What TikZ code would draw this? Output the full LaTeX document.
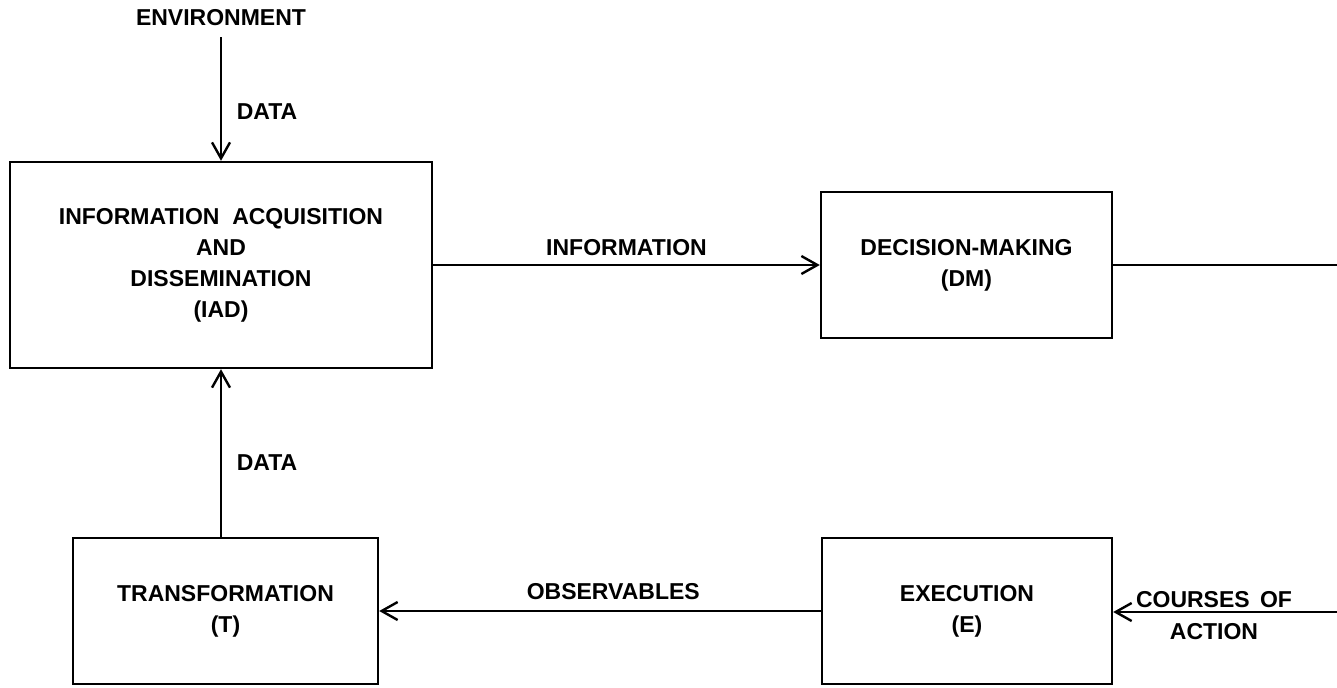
\documentclass[tikz,border=0pt]{standalone}
\usepackage{fontspec}
\setmainfont{Liberation Sans}
\usetikzlibrary{arrows.meta,calc}
\tikzset{
  block/.style={draw,line width=1.2pt,align=center,font=\bfseries\fontsize{11.5}{15.5}\selectfont},
  flow/.style={line width=1.2pt,-{Straight Barb[length=8pt,width=9pt,line width=1.2pt]}},
  wire/.style={line width=1.2pt},
  lbl/.style={font=\bfseries\fontsize{11.5}{16}\selectfont,align=center}
}
\begin{document}
\begin{tikzpicture}[x=0.5pt,y=-0.5pt]
        \useasboundingbox (0,0) rectangle (1337,687);
        %boxes
        \node[block,minimum width=211pt,minimum height=103pt] (iad) at (221,265)
            {INFORMATION\ \ ACQUISITION\\AND\\DISSEMINATION\\(IAD)};
        \node[block,minimum width=145.5pt,minimum height=73pt] (dm) at (966.5,265)
            {DECISION-MAKING\\(DM)};
        \node[block,minimum width=152.5pt,minimum height=73pt] (t) at (225.5,611)
            {TRANSFORMATION\\(T)};
        \node[block,minimum width=145pt,minimum height=73pt] (e) at (967,611)
            {EXECUTION\\(E)};

        %environment
        \node[lbl] (env) at (221,18) {ENVIRONMENT};
        \coordinate (envout) at (221,37);
        \draw[flow] (envout) -- (iad.north) node[lbl,pos=0.6,right=4pt] {DATA};

        %flows
        \draw[flow] (iad.east) -- (dm.west) node[lbl,midway,above=0.5pt] {INFORMATION};
        \draw[flow] (e.west) -- (t.east) node[lbl,pos=0.47,above=1.5pt] {OBSERVABLES};
        \draw[flow] (t.north -| iad.south) -- (iad.south) node[lbl,pos=0.44,right=4pt] {DATA};

        %right edge
        \coordinate (dmout) at (1337,265);
        \coordinate (coain) at (1337,612);
        \draw[wire] (dm.east) -- (dmout);
        \draw[flow] (coain) -- (e.east |- coain);
        \node[lbl] (coa) at (1214,616) {COURSES\hspace{0.45em}OF\\ACTION};
    \end{tikzpicture}
\end{document}
